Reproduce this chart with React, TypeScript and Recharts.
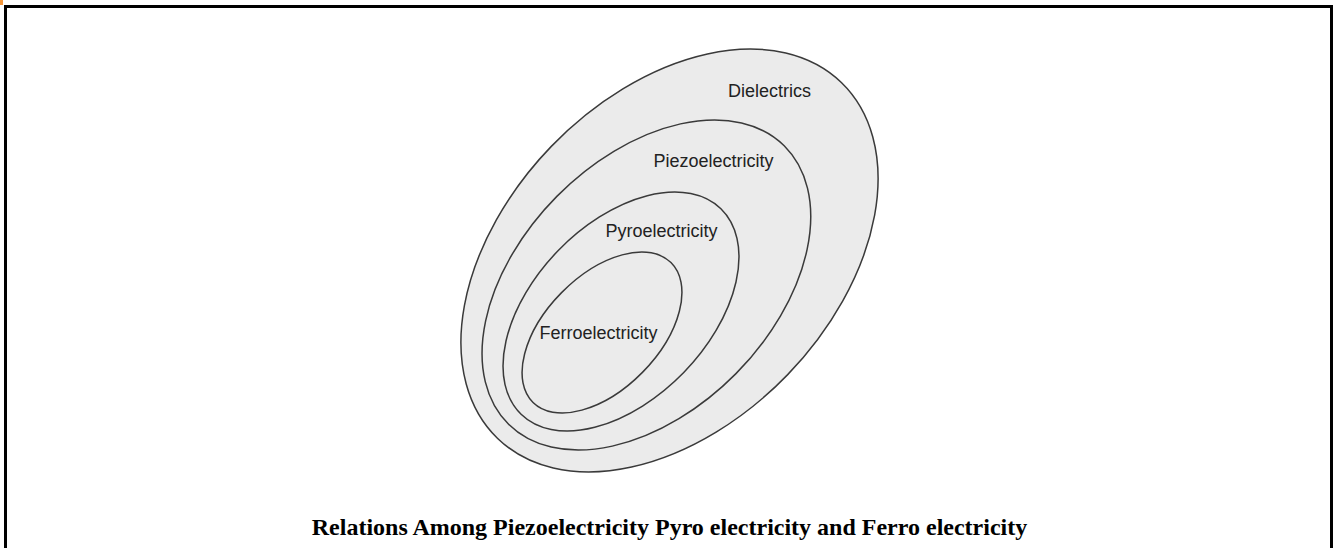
import React from 'react';
import { ScatterChart, Scatter, XAxis, YAxis } from 'recharts';

// Diagram coordinates: 1 unit = 10 px, y axis pointing up
const categories = ['Dielectrics', 'Piezoelectricity', 'Pyroelectricity', 'Ferroelectricity'];
const centerX = [66.95, 64.64, 62.1, 60.2];
const centerY = [28.75, 26.3, 23.65, 21.55];
const semiMajor = [24.74, 19.59, 14.33, 9.82];
const semiMinor = [16.43, 12.6, 8.75, 5.68];
const tiltDeg = [46, 45.3, 45.8, 45.4];
const labelX = [76.95, 71.35, 66.15, 59.85];
const labelY = [45.1, 38.1, 31.1, 20.9];
const title = 'Relations Among Piezoelectricity Pyro electricity and Ferro electricity';

const W = 1338;
const H = 548;
const X_DOMAIN: [number, number] = [0, 133.8];
const Y_DOMAIN: [number, number] = [0, 54.8];
const PX_PER_UNIT = W / (X_DOMAIN[1] - X_DOMAIN[0]);

const ellipses = categories.map((name, i) => ({
  name,
  x: centerX[i],
  y: centerY[i],
  a: semiMajor[i],
  b: semiMinor[i],
  tilt: tiltDeg[i],
}));

const labels = categories.map((name, i) => ({ name, x: labelX[i], y: labelY[i] }));

const EllipseShape = (props: any) => {
  const { cx, cy, payload } = props;
  if (cx == null || cy == null) return null;
  const rx = payload.a * PX_PER_UNIT;
  const ry = payload.b * PX_PER_UNIT;
  return (
    <ellipse
      cx={cx}
      cy={cy}
      rx={rx}
      ry={ry}
      transform={`rotate(${-payload.tilt} ${cx} ${cy})`}
      fill="#ebebeb"
      stroke="#3a3a3a"
      strokeWidth={1.5}
    />
  );
};

const LabelShape = (props: any) => {
  const { cx, cy, payload } = props;
  if (cx == null || cy == null) return null;
  return (
    <text
      x={cx}
      y={cy}
      textAnchor="middle"
      fontFamily="'Liberation Sans', Arial, sans-serif"
      fontSize={18}
      fill="#222"
    >
      {payload.name}
    </text>
  );
};

export default function App() {
  return (
    <div
      style={{
        position: 'absolute',
        left: 0,
        top: 0,
        width: W,
        height: H,
        overflow: 'hidden',
        background: '#fff',
      }}
    >
      <div
        style={{
          position: 'absolute',
          left: 4,
          top: 5,
          width: 1323,
          height: 700,
          border: '3px solid #000',
          boxSizing: 'content-box',
        }}
      />
      <div
        style={{ position: 'absolute', left: 0, top: 0, width: 3, height: 5, background: '#f5963a' }}
      />
      <div style={{ position: 'absolute', left: 0, top: 0 }}>
        <ScatterChart width={W} height={H} margin={{ top: 0, right: 0, bottom: 0, left: 0 }}>
          <XAxis type="number" dataKey="x" domain={X_DOMAIN} hide allowDataOverflow />
          <YAxis type="number" dataKey="y" domain={Y_DOMAIN} hide allowDataOverflow />
          <Scatter data={ellipses} shape={EllipseShape} isAnimationActive={false} />
          <Scatter data={labels} shape={LabelShape} isAnimationActive={false} />
        </ScatterChart>
      </div>
      <div
        style={{
          position: 'absolute',
          left: 0,
          top: 513,
          width: 1339,
          textAlign: 'center',
          fontFamily: "'Liberation Serif', 'Times New Roman', serif",
          fontWeight: 'bold',
          fontSize: 24,
          lineHeight: '28px',
          color: '#000',
        }}
      >
        {title}
      </div>
    </div>
  );
}
